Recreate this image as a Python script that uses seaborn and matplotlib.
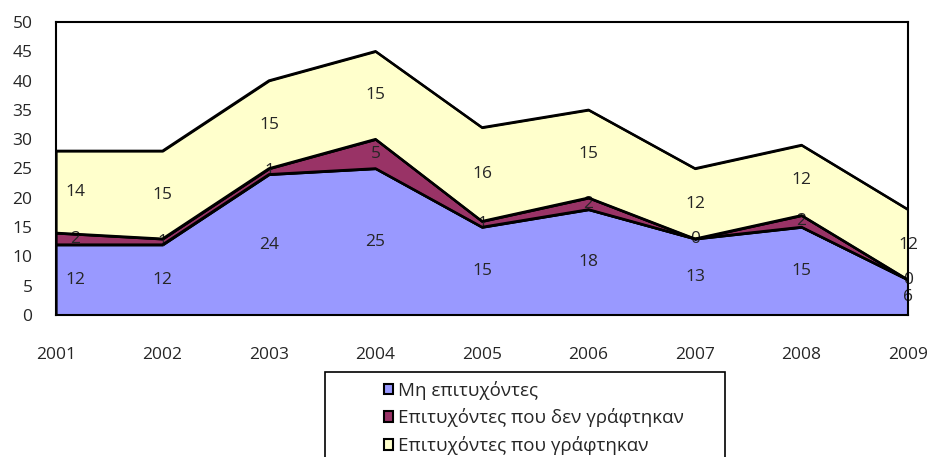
import matplotlib
matplotlib.use("Agg")
import matplotlib.pyplot as plt
import seaborn as sns
import pandas as pd
from matplotlib.patches import Rectangle, Patch

years = [2001, 2002, 2003, 2004, 2005, 2006, 2007, 2008, 2009]
not_passed = [12, 12, 24, 25, 15, 18, 13, 15, 6]
passed_not_registered = [2, 1, 1, 5, 1, 2, 0, 2, 0]
passed_registered = [14, 15, 15, 15, 16, 15, 12, 12, 12]
series_names = ["Μη επιτυχόντες", "Επιτυχόντες που δεν γράφτηκαν", "Επιτυχόντες που γράφτηκαν"]
colors = ["#9999FF", "#993366", "#FFFFCC"]

sns.set_style("white")
plt.rcParams['font.family'] = ['Open Sans', 'DejaVu Sans']
plt.rcParams['font.size'] = 12.5

fig = plt.figure(figsize=(9.29, 4.57), dpi=100)
ax = fig.add_axes([56/929, 1-315/457, (908-56)/929, (315-22)/457])

layers = [not_passed, passed_not_registered, passed_registered]
ax.stackplot(years, *layers, colors=colors, edgecolor="black", linewidth=1.6, zorder=1)

# boundary lines via seaborn
cum = [0]*len(years)
rows = []
for name, vals in zip(series_names, layers):
    top = [c + v for c, v in zip(cum, vals)]
    for y, b, t, v in zip(years, cum, top, vals):
        rows.append({"year": y, "series": name, "bottom": b, "top": t, "value": v})
    cum = top
df = pd.DataFrame(rows)
for name in series_names:
    sub = df[df.series == name]
    sns.lineplot(data=sub, x="year", y="top", color="black", linewidth=1.8, ax=ax, legend=False, zorder=4)

# data labels (drawn beneath the outline lines, as in the reference)
for _, r in df.iterrows():
    mid = (r["bottom"] + r["top"]) / 2
    x = r["year"]
    if x == years[0]:
        x = x + 0.18
    ax.text(x, mid, str(int(r["value"])), ha="center", va="center", fontsize=12.5, zorder=2)

ax.set_xlim(years[0], years[-1])
ax.set_ylim(0, 50)
ax.set_yticks(range(0, 51, 5))
ax.set_xticks(years)
ax.set_xticklabels([str(y) for y in years])
ax.set_xlabel("")
ax.set_ylabel("")
for s in ax.spines.values():
    s.set_color("black")
    s.set_linewidth(1.5)
    s.set_zorder(5)
ax.tick_params(axis="both", direction="out", length=4, width=1, color="#808080", labelsize=12.5)
ax.tick_params(axis="x", pad=19)
ax.tick_params(axis="y", pad=13)

# legend box
fig.patches.append(Rectangle((325/929, -0.01), (725-325)/929, 1-372/457 + 0.01, transform=fig.transFigure,
                             facecolor="white", edgecolor="black", linewidth=1.2, zorder=1))
handles = [Patch(facecolor=c, edgecolor="black", linewidth=1.5) for c in colors]
leg = fig.legend(handles, series_names, loc="upper left", bbox_to_anchor=(376/929, 1-373/457),
                 frameon=False, fontsize=13.5, handlelength=0.5, handleheight=0.5,
                 handletextpad=0.25, labelspacing=0.47, borderaxespad=0)
leg.set_zorder(2)

fig.savefig("out.png", dpi=100)
